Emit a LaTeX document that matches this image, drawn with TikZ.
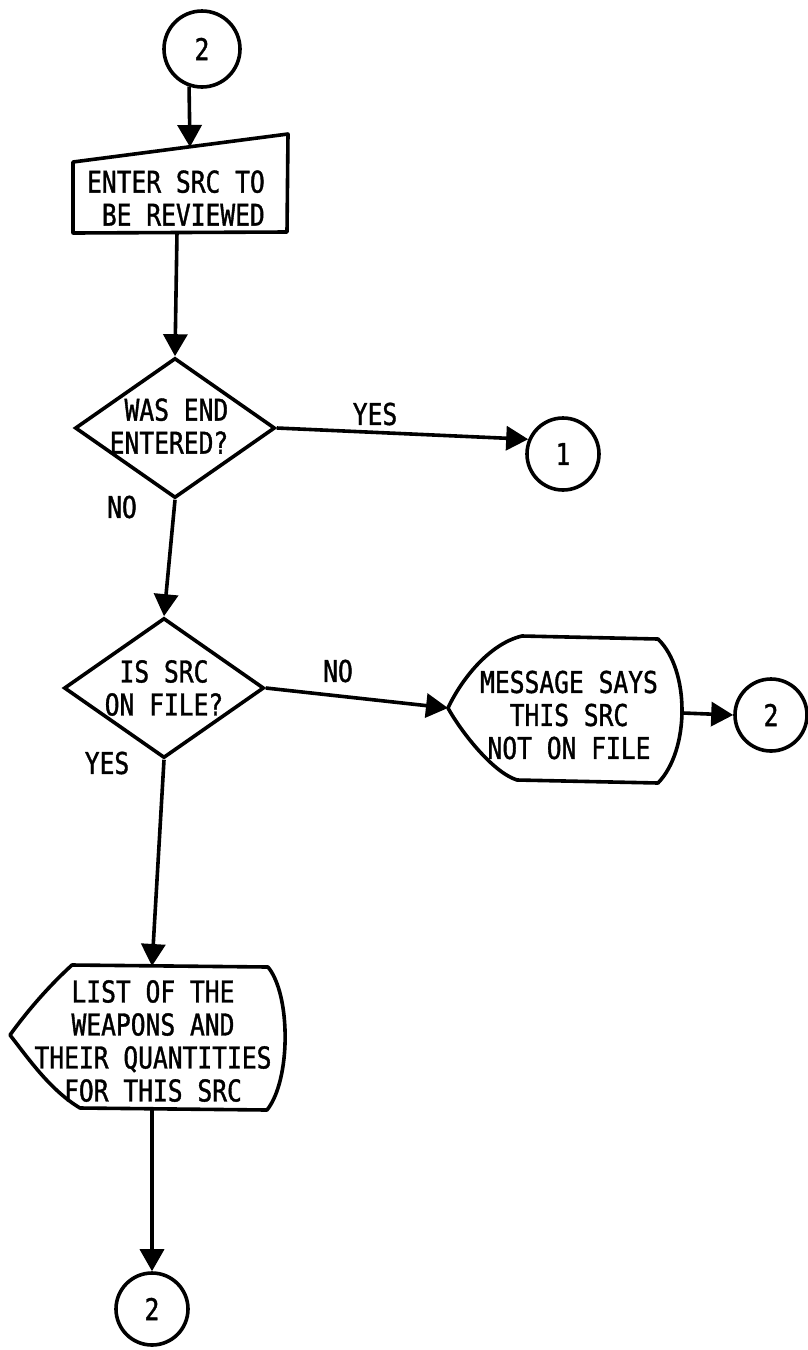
\documentclass[tikz,border=0pt]{standalone}
\usepackage{fontspec}
\setmonofont{DejaVu Sans Mono}[FakeStretch=0.82,FakeBold=1.2]
\usetikzlibrary{shapes.geometric,arrows.meta}

\begin{document}
\begin{tikzpicture}[x=1pt,y=-1pt,
  every node/.style={font=\ttfamily\fontsize{30}{33}\selectfont},
  lw/.style={line width=3.6pt},
  flow/.style={lw,-{Triangle[length=22pt,width=24pt]}},
  connector/.style={circle,draw,lw,minimum size=72pt,inner sep=0pt},
  decision/.style={diamond,draw,lw,aspect=1.43,minimum width=200pt,minimum height=140pt,inner sep=0pt},
  outline/.style={lw,line join=round},
  boxtext/.style={inner sep=0pt},
  lbl/.style={inner sep=0pt}
]
% page frame
\fill[white] (0,0) rectangle (808,1350);
\useasboundingbox (0,0) rectangle (808,1350);

% ---- entry connector
\node[connector,minimum size=76pt] (c2top) at (202,49) {2};

% ---- manual input: enter SRC
\coordinate (mi-tl) at (73,162);
\coordinate (mi-tr) at (288,134);
\coordinate (mi-br) at (287,232);
\coordinate (mi-bl) at (73,233);
\coordinate (mi-in) at (190,147);
\coordinate (mi-out) at (177,232);
\draw[outline] (mi-tl) -- (mi-tr) -- (mi-br) -- (mi-bl) -- cycle;
\node[boxtext,align=right,anchor=east] (mi-text) at (265,198) {ENTER SRC TO\\BE REVIEWED};

% ---- decision: end entered?
\node[decision] (d1) at (175,428) {};
\node[lbl,align=right] (d1-text) at (169,426) {WAS END\\ENTERED?};

% ---- exit connector 1
\node[connector] (c1) at (563,454) {1};

% ---- decision: SRC on file?
\node[decision,align=center] (d2) at (164,688) {IS SRC\\ON FILE?};

% ---- display: message
\coordinate (ms-l) at (448,708);
\coordinate (ms-tl) at (522,636);
\coordinate (ms-tr) at (658,639);
\coordinate (ms-r) at (683,713);
\coordinate (ms-br) at (658,783);
\coordinate (ms-bl) at (517,780);
\draw[outline] (ms-l) .. controls (460,682) and (488,644) .. (ms-tl) -- (ms-tr)
  .. controls (690,670) and (690,750) .. (ms-br) -- (ms-bl)
  .. controls (492,772) and (460,730) .. cycle;
\node[boxtext,align=center] (ms-text) at (569,715) {MESSAGE SAYS\\THIS SRC\\NOT ON FILE};

\node[connector] (c2r) at (771,715) {2};

% ---- display: weapons list
\coordinate (ls-l) at (10,1035);
\coordinate (ls-tl) at (72,965);
\coordinate (ls-tr) at (268,967);
\coordinate (ls-br) at (267,1110);
\coordinate (ls-bl) at (80,1108);
\coordinate (ls-in) at (152,966);
\coordinate (ls-out) at (152,1109);
\draw[outline] (ls-l) .. controls (28,1010) and (50,985) .. (ls-tl) -- (ls-tr)
  .. controls (291,995) and (291,1080) .. (ls-br) -- (ls-bl)
  .. controls (50,1090) and (28,1058) .. cycle;
\node[boxtext,align=center] (ls-text) at (153,1041) {LIST OF THE\\WEAPONS AND\\THEIR QUANTITIES\\FOR THIS SRC};

\node[connector] (c2b) at (152,1309) {2};

% ---- flow lines
\draw[flow] (c2top.251) -- (mi-in);
\draw[flow] (mi-out) -- (d1.north);
\draw[flow] (d1.east) -- (c1.157);
\draw[flow] (d1.south) -- (d2.north);
\draw[flow] (d2.east) -- (ms-l);
\draw[flow] (ms-r) -- (c2r.west);
\draw[flow] (d2.south) -- (ls-in);
\draw[flow] (ls-out) -- (c2b.north);

% ---- branch labels
\node[lbl] (yes1) at (375,414) {YES};
\node[lbl] (no1) at (122,507) {NO};
\node[lbl] (no2) at (338,671) {NO};
\node[lbl] (yes2) at (107,763) {YES};
\end{tikzpicture}
\end{document}
